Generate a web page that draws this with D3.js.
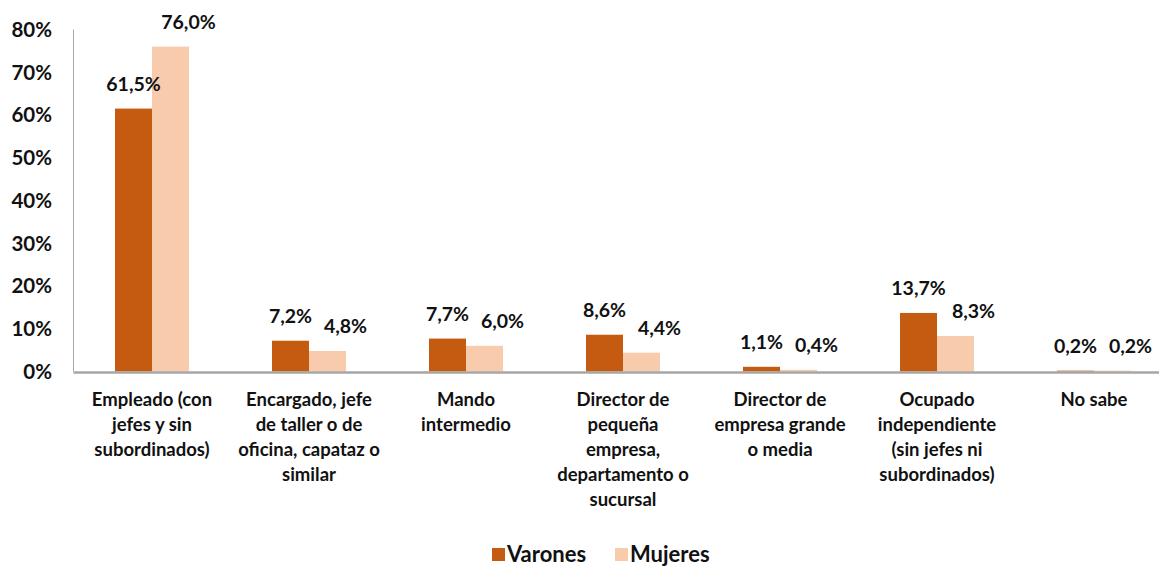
<!DOCTYPE html>
<html>
<head>
<meta charset="utf-8">
<script src="https://cdn.jsdelivr.net/npm/d3@7"></script>
<style>
  body { margin: 0; background: #fff; }
  text { font-family: Lato, "Open Sans", sans-serif; font-weight: bold; fill: #111; }
</style>
</head>
<body>
<div id="chart"></div>
<script>
// categories (line breaks as in the original)
const categories = [
  "Empleado (con\njefes y sin\nsubordinados)",
  "Encargado, jefe\nde taller o de\noficina, capataz o\nsimilar",
  "Mando\nintermedio",
  "Director de\npequeña\nempresa,\ndepartamento o\nsucursal",
  "Director de\nempresa grande\no media",
  "Ocupado\nindependiente\n(sin jefes ni\nsubordinados)",
  "No sabe"
];
const seriesNames = ["Varones", "Mujeres"];
const varones = [61.5, 7.2, 7.7, 8.6, 1.1, 13.7, 0.2];
const mujeres = [76.0, 4.8, 6.0, 4.4, 0.4, 8.3, 0.2];
const yTicks = [0, 10, 20, 30, 40, 50, 60, 70, 80];

const colors = { Varones: "#c55a11", Mujeres: "#f8cbad" };

const W = 1159, H = 566;
const svg = d3.select("#chart").append("svg")
  .attr("width", W).attr("height", H);

const x0 = d3.scaleBand()
  .domain(categories)
  .range([73.5, 1172.5]);

const x1 = d3.scaleBand()
  .domain(seriesNames)
  .range([0, 74]);

const y = d3.scaleLinear()
  .domain([0, 80])
  .range([371.5, 29.5]);

const fmt = v => d3.format(".1f")(v).replace(".", ",") + "%";

// y axis labels
svg.append("g").selectAll("text")
  .data(yTicks).enter().append("text")
  .attr("x", 52)
  .attr("y", d => y(d))
  .attr("dy", "0.36em")
  .attr("text-anchor", "end")
  .attr("font-size", "20.5px")
  .text(d => d + "%");

// vertical axis line
svg.append("line")
  .attr("x1", 73.5).attr("x2", 73.5)
  .attr("y1", y(80)).attr("y2", y(0))
  .attr("stroke", "#a6a6a6").attr("stroke-width", 1);

const rows = categories.map((c, i) => ({
  cat: c,
  vals: [
    { key: "Varones", v: varones[i] },
    { key: "Mujeres", v: mujeres[i] }
  ]
}));

const groups = svg.append("g").selectAll("g")
  .data(rows).enter().append("g")
  .attr("transform", d => `translate(${x0(d.cat) + x0.bandwidth() / 2 - 37}, 0)`);

groups.selectAll("rect")
  .data(d => d.vals).enter().append("rect")
  .attr("x", d => x1(d.key))
  .attr("width", x1.bandwidth())
  .attr("y", d => y(d.v))
  .attr("height", d => y(0) - y(d.v))
  .attr("fill", d => colors[d.key]);

// value labels
groups.selectAll("text.val")
  .data(d => d.vals).enter().append("text")
  .attr("class", "val")
  .attr("x", d => x1(d.key) + x1.bandwidth() / 2 + (d.key === "Mujeres" ? 18 : 0))
  .attr("y", d => y(d.v) - 18)
  .attr("text-anchor", "middle")
  .attr("font-size", "19.5px")
  .text(d => fmt(d.v));

// baseline
svg.append("line")
  .attr("x1", 73.5).attr("x2", W)
  .attr("y1", y(0) + 1).attr("y2", y(0) + 1)
  .attr("stroke", "#a6a6a6").attr("stroke-width", 2.5);

// category labels
const catLabels = svg.append("g").selectAll("text")
  .data(categories).enter().append("text")
  .attr("x", d => x0(d) + x0.bandwidth() / 2)
  .attr("y", 406)
  .attr("text-anchor", "middle")
  .attr("font-size", "18.5px");

catLabels.selectAll("tspan")
  .data(d => d.split("\n")).enter().append("tspan")
  .attr("x", function() { return d3.select(this.parentNode).attr("x"); })
  .attr("dy", (d, i) => i === 0 ? 0 : 25)
  .text(d => d);

// legend
const legend = svg.append("g").attr("transform", "translate(492, 554)");
const legX = [0, 123];
seriesNames.forEach((s, i) => {
  legend.append("rect")
    .attr("x", legX[i]).attr("y", -6)
    .attr("width", 13).attr("height", 13)
    .attr("fill", colors[s]);
  legend.append("text")
    .attr("x", legX[i] + 15).attr("y", 0)
    .attr("dy", "0.36em")
    .attr("font-size", "22px")
    .text(s);
});
</script>
</body>
</html>
